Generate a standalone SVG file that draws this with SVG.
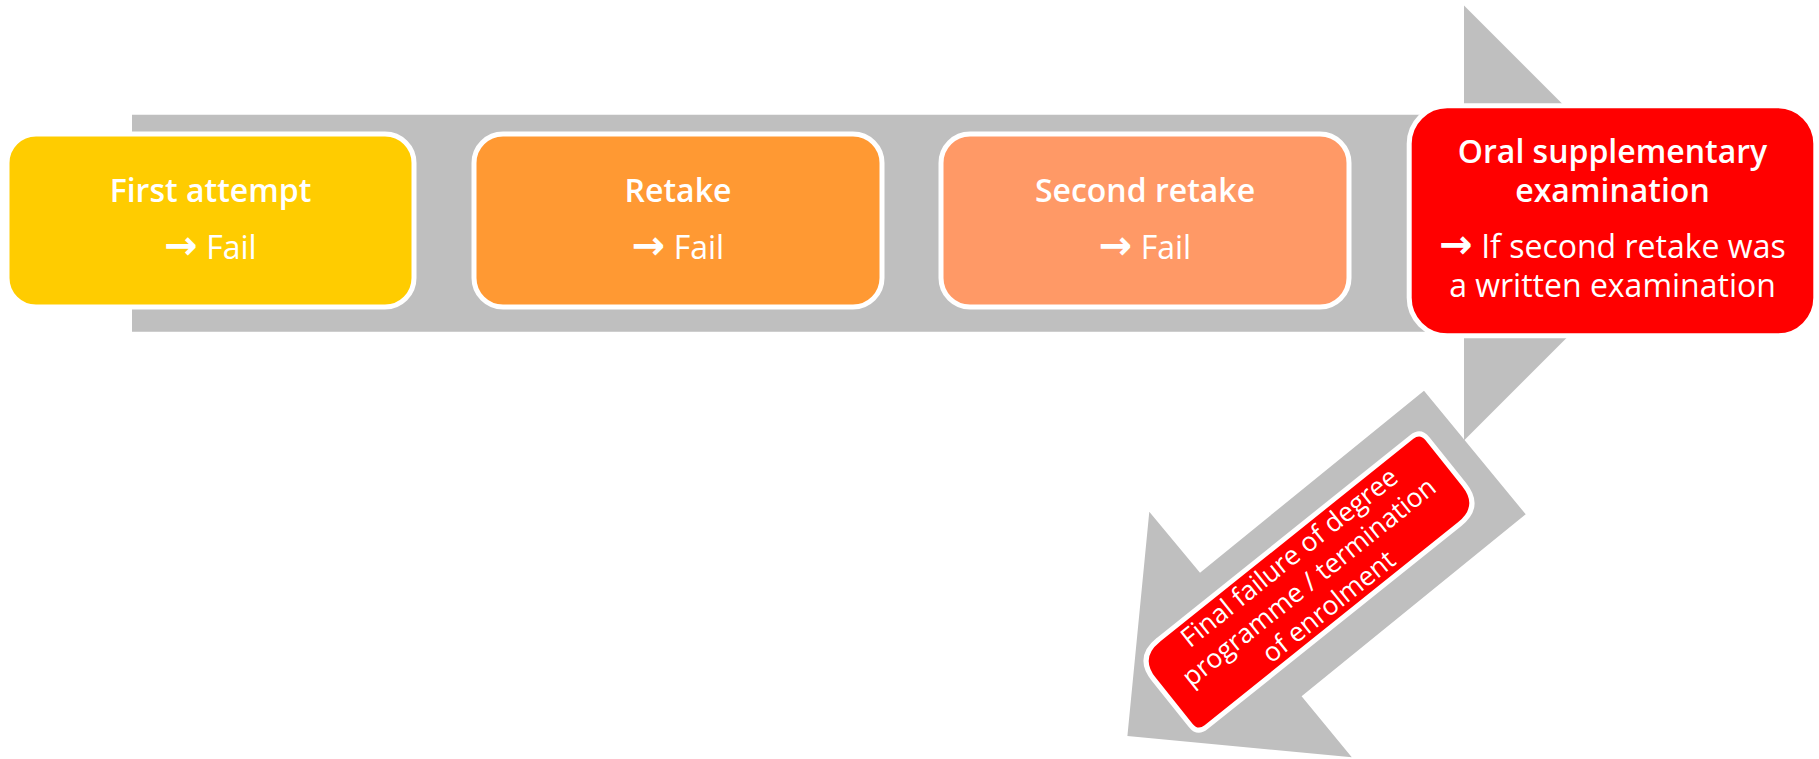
<svg xmlns="http://www.w3.org/2000/svg" width="1819" height="759" viewBox="0 0 1819 759">
<style>
.bg{fill:#ffffff}
.arrow{fill:#BFBFBF}
.box{stroke:#ffffff;stroke-width:5}
.t{font-family:"Open Sans","Noto Sans","Liberation Sans",sans-serif;fill:#ffffff;text-anchor:middle}
.b{font-weight:600;font-size:32px}
.r{font-size:32px}
.s{font-size:26.5px}
.ar{font-family:"DejaVu Sans",sans-serif;font-weight:bold;font-size:40px}
</style>
<rect class="bg" x="0" y="0" width="1819" height="759"/>
<g id="connectors">
  <polygon id="main-arrow" class="arrow" points="132,114.7 1464,114.7 1464,5.5 1681.5,223 1464,440.5 1464,331.7 132,331.7"/>
  <polygon id="exit-arrow" class="arrow" points="1424,390.7 1525.7,514.3 1301.6,696.2 1351.8,757.2 1127.4,736 1149.3,511.7 1200,572.7"/>
</g>
<g id="first-attempt">
  <rect class="box" x="7" y="134" width="407" height="173" rx="29" fill="#FFCC00"/>
  <text class="t b" x="210.5" y="201.7">First attempt</text>
  <text class="t r" x="210.5" y="259"><tspan class="ar">→</tspan> Fail</text>
</g>
<g id="retake">
  <rect class="box" x="474" y="134" width="408" height="173" rx="29" fill="#FF9933"/>
  <text class="t b" x="678" y="201.7">Retake</text>
  <text class="t r" x="678" y="259"><tspan class="ar">→</tspan> Fail</text>
</g>
<g id="second-retake">
  <rect class="box" x="941" y="134" width="408" height="173" rx="29" fill="#FF9966"/>
  <text class="t b" x="1145" y="201.7">Second retake</text>
  <text class="t r" x="1145" y="259"><tspan class="ar">→</tspan> Fail</text>
</g>
<g id="oral-supplementary">
  <rect class="box" x="1409.2" y="105.8" width="406.6" height="230" rx="38" fill="#FF0000"/>
  <text class="t b" x="1612.5" y="163.3">Oral supplementary</text>
  <text class="t b" x="1612.5" y="201.7">examination</text>
  <text class="t r" x="1612.5" y="257.7"><tspan class="ar">→</tspan> If second retake was</text>
  <text class="t r" x="1612.5" y="297.3">a written examination</text>
</g>
<g id="final-failure" transform="translate(1309,582) rotate(-38.7)">
  <path class="box" fill="#FF0000" d="M -153,-49 L 171,-49 Q 182,-49 182,-38 L 182,21 Q 182,49 154,49 L -171,49 Q -182,49 -182,38 L -182,-21 Q -182,-49 -154,-49 Z"/>
  <text class="t s" x="0" y="-22.5">Final failure of degree</text>
  <text class="t s" x="0" y="9">programme / termination</text>
  <text class="t s" x="0" y="40.5">of enrolment</text>
</g>
</svg>
